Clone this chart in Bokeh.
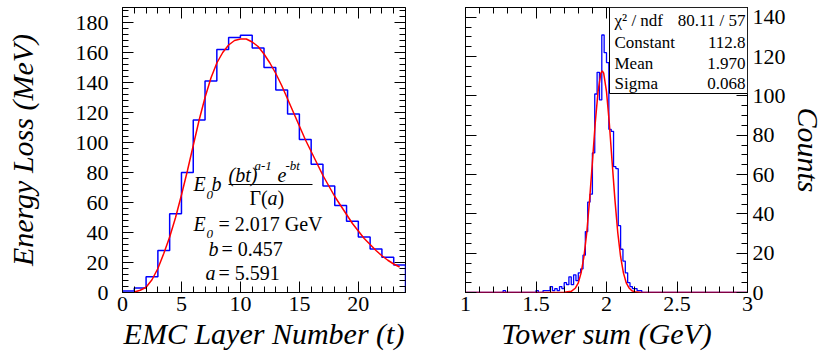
from bokeh.plotting import figure
from bokeh.models import (Range1d, LinearAxis, SingleIntervalTicker, CustomJSTickFormatter,
                          Label, BoxAnnotation)
from bokeh.layouts import row
from bokeh.embed import file_html
from bokeh.resources import INLINE

# ---------------- data: left panel (energy loss per EMC layer) ----------------
layer_first_edge = 0
layer_bin_width = 1
layer_counts = [1, 3, 10.5, 28, 52.5, 80, 115, 141, 162, 170, 171.5, 163,
                150, 135, 119, 102, 85.5, 71, 58, 47.5, 37, 29, 23.5, 18.3]
fit_layer_t = [1, 1.5, 2, 2.5, 3, 3.5, 4, 4.5, 5, 5.5, 6, 6.5, 7, 7.5, 8, 8.5, 9,
               9.5, 10, 10.5, 11, 11.5, 12, 12.5, 13, 13.5, 14, 14.5, 15, 15.5, 16,
               16.5, 17, 17.5, 18, 18.5, 19, 19.5, 20, 20.5, 21, 21.5, 22, 22.5, 23, 23.5]
fit_layer_e = [0.3, 1.5, 3.5, 8.5, 16, 26, 37, 50, 65, 81, 98, 115, 130, 143, 153,
               160, 165, 168, 169, 169, 167, 164, 159, 153, 146, 138, 129, 120, 111,
               102, 94, 86, 78, 71, 64, 58, 52, 46, 41, 36, 32, 28, 24.5, 21.5, 19, 17]
fit_values = ["= 2.017 GeV", "= 0.457", "= 5.591"]

# ---------------- data: right panel (tower sum) ----------------
tower_lo, tower_hi, tower_nbins = 1.0, 3.0, 120
tower_counts = [
    0, 0, 0, 0, 0, 0, 0, 0, 0, 0, 0, 0, 0, 0, 0, 0, 1, 0, 0, 0,
    0, 0, 0, 0, 0, 0, 0, 0, 0, 0, 1, 0, 0, 1, 1, 1, 3, 1, 2, 1,
    3, 2, 5, 4, 8, 4, 9, 6, 10, 12, 19, 31, 46, 50, 71, 101, 112, 98, 131, 122,
    117, 83, 82, 64, 63, 34, 22, 16, 10, 5, 3, 2, 2, 1, 1, 0, 0, 0, 0, 0,
    0, 0, 0, 0, 0, 0, 0, 0, 0, 0, 0, 0, 0, 0, 0, 0, 0, 0, 0, 0,
    0, 0, 0, 0, 0, 0, 0, 0, 0, 0, 0, 0, 0, 0, 0, 0, 0, 0, 0, 0]
fit_tower_x = [1.0, 1.70, 1.75, 1.78, 1.80, 1.82, 1.84, 1.86, 1.88, 1.90, 1.92, 1.94,
               1.96, 1.97, 1.98, 2.00, 2.02, 2.04, 2.06, 2.08, 2.10, 2.12, 2.14, 2.16,
               2.18, 2.20, 2.25, 3.0]
fit_tower_y = [0, 0.1, 0.6, 2.3, 4.9, 10, 18.2, 30.4, 47, 66.2, 86.1, 102.2,
               111.6, 112.8, 111.6, 102.2, 86.1, 66.2, 47, 30.4, 18.2, 10, 4.9, 2.3,
               0.9, 0.4, 0, 0]
stats_names = ["χ² / ndf", "Constant", "Mean", "Sigma"]
stats_values = ["80.11 / 57", "112.8", "1.970", "0.068"]

SERIF = "Liberation Serif"
AXIS_FONT = "Times New Roman"
BLACK = "black"


def outline(first_edge, width, counts):
    edges = [first_edge + i * width for i in range(len(counts) + 1)]
    xs, ys = [edges[0]], [0]
    for i, c in enumerate(counts):
        xs += [edges[i], edges[i + 1]]
        ys += [c, c]
    xs.append(edges[-1])
    ys.append(0)
    return xs, ys


def add_axis(p, side, interval, nminor, labels=True, fmt=None, title=None,
             standoff=5, title_standoff=5):
    ax = LinearAxis(ticker=SingleIntervalTicker(interval=interval, num_minor_ticks=nminor))
    ax.major_tick_in = 11
    ax.major_tick_out = 0
    ax.minor_tick_in = 6
    ax.minor_tick_out = 0
    ax.axis_line_color = None
    ax.major_tick_line_color = BLACK
    ax.minor_tick_line_color = BLACK
    ax.major_label_text_font = AXIS_FONT
    ax.axis_label_text_font = AXIS_FONT
    if labels:
        ax.major_label_text_font_size = "22px"
        ax.major_label_text_color = BLACK
        ax.major_label_standoff = standoff
        if fmt is not None:
            ax.formatter = fmt
    else:
        ax.formatter = CustomJSTickFormatter(code="return ''")
        ax.major_label_standoff = 0
        ax.major_label_text_font_size = "1px"
    if title:
        ax.axis_label = title
        ax.axis_label_text_font_style = "italic"
        ax.axis_label_text_font_size = "30px"
        ax.axis_label_text_color = BLACK
        ax.axis_label_standoff = title_standoff
    p.add_layout(ax, side)
    return ax


def base_fig(width, xr, yr, left, right):
    p = figure(width=width, height=362, x_range=xr, y_range=yr,
               x_axis_type=None, y_axis_type=None, output_backend="svg",
               toolbar_location=None, min_border_left=left, min_border_right=right,
               min_border_top=7, min_border_bottom=70)
    p.outline_line_color = BLACK
    p.outline_line_alpha = 1
    p.outline_line_width = 1
    p.background_fill_color = "white"
    p.border_fill_color = "white"
    return p


# ======================= left panel =======================
L_X0, L_X1, L_Y1 = 0, 24, 190
p1 = base_fig(435, Range1d(L_X0, L_X1), Range1d(0, L_Y1), 122, 30)
add_axis(p1, "below", 5, 5, title="EMC Layer Number (t)", standoff=4, title_standoff=3)
add_axis(p1, "left", 20, 5, title="Energy Loss (MeV)", standoff=14, title_standoff=34)
add_axis(p1, "above", 5, 5, labels=False)
add_axis(p1, "right", 20, 5, labels=False)

hx, hy = outline(layer_first_edge, layer_bin_width, layer_counts)
p1.line(hx, hy, line_color="#0000ff", line_width=1.5)
p1.line(fit_layer_t, fit_layer_e, line_color="#ff0000", line_width=1.5)


# pixel -> data helpers for annotation placement (frame 122..405, 7..292)
def lx(px):
    return L_X0 + (px - 122) * (L_X1 - L_X0) / 283.0


def ly(py):
    return (292 - py) * L_Y1 / 285.0


def ltext(txt, px, py, size=20, italic=True, align="left"):
    p1.add_layout(Label(x=lx(px), y=ly(py), text=txt, text_font=SERIF,
                        text_font_size=f"{size}px", text_color=BLACK,
                        text_font_style="italic" if italic else "normal",
                        text_align=align, text_baseline="middle"))


# formula  E0 b (bt)^(a-1) e^(-bt) / Gamma(a)
ltext("E", 193, 183)
ltext("0", 206, 194, size=13)
ltext("b", 211, 183)
ltext("(bt)", 228, 174)
ltext("a-1", 254, 165, size=13)
ltext("e", 277, 174)
ltext("-bt", 285, 165, size=13)
p1.line([lx(228), lx(312)], [ly(184), ly(184)], line_color=BLACK, line_width=1)
ltext("Γ(", 249, 197, italic=False)
ltext("a", 267, 197)
ltext(")", 277, 197, italic=False)
# fitted parameter rows
ltext("E", 193, 223)
ltext("0", 206, 233, size=13)
ltext(fit_values[0], 218, 223, italic=False)
ltext("b", 208, 248)
ltext(fit_values[1], 221, 248, italic=False)
ltext("a", 205, 272)
ltext(fit_values[2], 218, 272, italic=False)

# ======================= right panel =======================
R_X0, R_X1, R_Y1 = tower_lo, tower_hi, 145
p2 = base_fig(392, Range1d(R_X0, R_X1), Range1d(0, R_Y1), 30, 80)
fmt_x = CustomJSTickFormatter(code="return Number(tick.toFixed(1)).toString()")
add_axis(p2, "below", 0.5, 5, fmt=fmt_x, title="Tower sum (GeV)", standoff=4, title_standoff=3)
add_axis(p2, "right", 20, 4, title="Counts", standoff=5, title_standoff=3)
add_axis(p2, "above", 0.5, 5, labels=False)
add_axis(p2, "left", 20, 4, labels=False)

tw = (tower_hi - tower_lo) / tower_nbins
tx, ty = outline(tower_lo, tw, tower_counts)
p2.line(tx, ty, line_color="#0000ff", line_width=1.3)
p2.line(fit_tower_x, fit_tower_y, line_color="#ff0000", line_width=1.5)


def rx(px):
    return R_X0 + (px - 465) * (R_X1 - R_X0) / 282.0


def ry(py):
    return (292 - py) * R_Y1 / 285.0


p2.add_layout(BoxAnnotation(left=rx(609), right=rx(747), top=ry(7), bottom=ry(93),
                            fill_color="white", fill_alpha=1, line_color=BLACK,
                            line_alpha=1, line_width=1))
row_y = [20, 41.7, 62.7, 83.3]
for name, val, yy in zip(stats_names, stats_values, row_y):
    p2.add_layout(Label(x=rx(614), y=ry(yy), text=name, text_font=SERIF,
                        text_font_size="17px", text_color=BLACK,
                        text_align="left", text_baseline="middle"))
    p2.add_layout(Label(x=rx(745), y=ry(yy), text=val, text_font=SERIF,
                        text_font_size="17px", text_color=BLACK,
                        text_align="right", text_baseline="middle"))

layout = row(p1, p2)
open("out.html", "w").write(file_html(layout, INLINE))
